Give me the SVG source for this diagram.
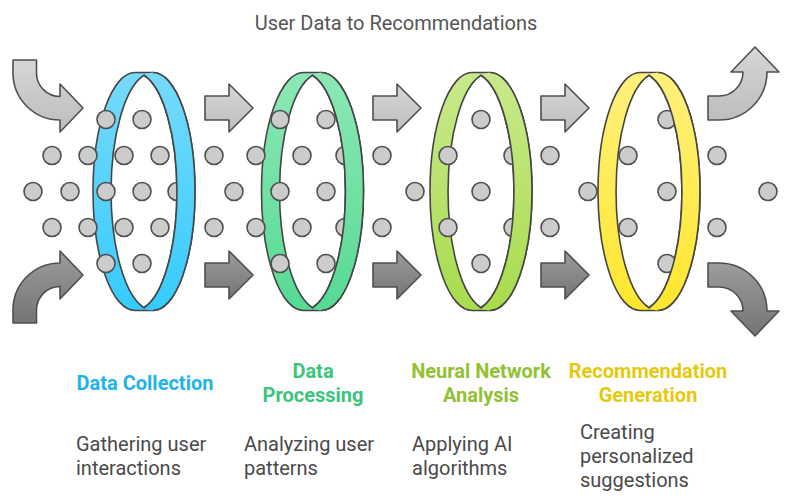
<svg xmlns="http://www.w3.org/2000/svg" width="794" height="504" viewBox="0 0 794 504">
<defs>
<linearGradient id="gBlue" x1="0" y1="0" x2="0" y2="1"><stop offset="0" stop-color="#76dafb"/><stop offset="1" stop-color="#36cbfe"/></linearGradient>
<linearGradient id="gGreen" x1="0" y1="0" x2="0" y2="1"><stop offset="0" stop-color="#8ce8b6"/><stop offset="1" stop-color="#56da93"/></linearGradient>
<linearGradient id="gLime" x1="0" y1="0" x2="0" y2="1"><stop offset="0" stop-color="#c9e98c"/><stop offset="1" stop-color="#a8dc4c"/></linearGradient>
<linearGradient id="gYellow" x1="0" y1="0" x2="0" y2="1"><stop offset="0" stop-color="#fff07c"/><stop offset="1" stop-color="#ffe72e"/></linearGradient>
<linearGradient id="gLight" x1="0" y1="0" x2="0" y2="1"><stop offset="0" stop-color="#d6d6d6"/><stop offset="1" stop-color="#bdbdbd"/></linearGradient>
<linearGradient id="gDark" x1="0" y1="0" x2="0" y2="1"><stop offset="0" stop-color="#9c9c9c"/><stop offset="1" stop-color="#747474"/></linearGradient>
<path id="ringBack" d="M-9,-119 L9,-119 A42,119 0 0 1 9,119 L-9,119 A42,119 0 0 1 -9,-119 Z"/>
<path id="ringHole" d="M0,-116.2 A42,119 0 0 1 0,116.2 A42,119 0 0 1 0,-116.2 Z"/>
<path id="ringFront" d="M9,-119 A42,119 0 0 1 9,119 A42,119 0 0 1 0,116.2 A42,119 0 0 0 0,-116.2 A42,119 0 0 1 9,-119 Z"/>
<path id="ringFrontLine" d="M9,-119 A42,119 0 0 1 9,119 M0,-116.2 A42,119 0 0 1 0,116.2"/>
<path id="arrowR" d="M-24,-12 L0,-12 L0,-24 L24,0 L0,24 L0,12 L-24,12 Z"/>
</defs>
<style>
.band{stroke:#454545;stroke-width:1.6;stroke-linejoin:round}
.hole{fill:#ffffff;stroke:#454545;stroke-width:1.6}
.line{fill:none;stroke:#454545;stroke-width:1.6}
.dot{fill:#cccccc;stroke:#4f4f4f;stroke-width:1.6}
.arr{stroke:#4f4f4f;stroke-width:1.6;stroke-linejoin:round}
.lt{fill:url(#gLight)}
.dk{fill:url(#gDark)}
.title{font-family:Roboto,"Liberation Sans",sans-serif;font-size:20px;fill:#555555;text-anchor:middle}
.head{font-family:Roboto,"Liberation Sans",sans-serif;font-size:20px;font-weight:bold;text-anchor:middle}
.desc{font-family:Roboto,"Liberation Sans",sans-serif;font-size:20px;fill:#4a4a4a}
</style>
<rect width="794" height="504" fill="#ffffff"/>
<text class="title" x="396" y="30">User Data to Recommendations</text>

<g id="connectors">
<path class="arr lt" d="M13,60 L13,73 A47,47 0 0 0 60,120 L60,132 L83,108 L60,84 L60,96.5 A23.5,23.5 0 0 1 36.5,73 L36.5,60 Z"/>
<path class="arr dk" d="M13,323 L13,310 A47,47 0 0 1 60,263 L60,251 L83,275 L60,299 L60,286.5 A23.5,23.5 0 0 0 36.5,310 L36.5,323 Z"/>
<use class="arr lt" href="#arrowR" x="229" y="108"/>
<use class="arr dk" href="#arrowR" x="229" y="275"/>
<use class="arr lt" href="#arrowR" x="397" y="108"/>
<use class="arr dk" href="#arrowR" x="397" y="275"/>
<use class="arr lt" href="#arrowR" x="565" y="108"/>
<use class="arr dk" href="#arrowR" x="565" y="275"/>
<path class="arr lt" d="M708,120 L719,120 A48,48 0 0 0 767,72 L779,72 L755,47 L731,72 L743,72 A24,24 0 0 1 719,96 L708,96 Z"/>
<path class="arr dk" d="M708,263 L719,263 A48,48 0 0 1 767,311 L779,311 L755,336 L731,311 L743,311 A24,24 0 0 0 719,287 L708,287 Z"/>
</g>

<g id="node-data-collection">
<g transform="translate(144,191.5)">
<use class="band" href="#ringBack" fill="url(#gBlue)"/>
<use class="hole" href="#ringHole"/>
</g>
<circle class="dot" cx="106" cy="119.5" r="9"/><circle class="dot" cx="142" cy="119.5" r="9"/>
<circle class="dot" cx="52" cy="155.5" r="9"/><circle class="dot" cx="88" cy="155.5" r="9"/><circle class="dot" cx="124" cy="155.5" r="9"/><circle class="dot" cx="160" cy="155.5" r="9"/>
<circle class="dot" cx="33" cy="191.5" r="9"/><circle class="dot" cx="70" cy="191.5" r="9"/><circle class="dot" cx="106" cy="191.5" r="9"/><circle class="dot" cx="142" cy="191.5" r="9"/><circle class="dot" cx="177" cy="191.5" r="9"/>
<circle class="dot" cx="52" cy="227.5" r="9"/><circle class="dot" cx="88" cy="227.5" r="9"/><circle class="dot" cx="124" cy="227.5" r="9"/><circle class="dot" cx="160" cy="227.5" r="9"/>
<circle class="dot" cx="106" cy="263.5" r="9"/><circle class="dot" cx="142" cy="263.5" r="9"/>
<g transform="translate(144,191.5)">
<use href="#ringFront" fill="url(#gBlue)"/>
<use class="line" href="#ringFrontLine"/>
</g>
<text class="head" x="145" y="390" fill="#1db4e8">Data Collection</text>
<text class="desc" x="76" y="451">Gathering user</text>
<text class="desc" x="76" y="475">interactions</text>
</g>

<g id="node-data-processing">
<g transform="translate(312.5,191.5)">
<use class="band" href="#ringBack" fill="url(#gGreen)"/>
<use class="hole" href="#ringHole"/>
</g>
<circle class="dot" cx="280" cy="119.5" r="9"/><circle class="dot" cx="326" cy="119.5" r="9"/>
<circle class="dot" cx="214" cy="155.5" r="9"/><circle class="dot" cx="256" cy="155.5" r="9"/><circle class="dot" cx="302" cy="155.5" r="9"/><circle class="dot" cx="345" cy="155.5" r="9"/>
<circle class="dot" cx="234" cy="191.5" r="9"/><circle class="dot" cx="280" cy="191.5" r="9"/><circle class="dot" cx="326" cy="191.5" r="9"/>
<circle class="dot" cx="214" cy="227.5" r="9"/><circle class="dot" cx="256" cy="227.5" r="9"/><circle class="dot" cx="302" cy="227.5" r="9"/><circle class="dot" cx="345" cy="227.5" r="9"/>
<circle class="dot" cx="280" cy="263.5" r="9"/><circle class="dot" cx="326" cy="263.5" r="9"/>
<g transform="translate(312.5,191.5)">
<use href="#ringFront" fill="url(#gGreen)"/>
<use class="line" href="#ringFrontLine"/>
</g>
<text class="head" x="313" y="378" fill="#3cc47e">Data</text>
<text class="head" x="313" y="402" fill="#3cc47e">Processing</text>
<text class="desc" x="244" y="451">Analyzing user</text>
<text class="desc" x="244" y="475">patterns</text>
</g>

<g id="node-neural-network-analysis">
<g transform="translate(481,191.5)">
<use class="band" href="#ringBack" fill="url(#gLime)"/>
<use class="hole" href="#ringHole"/>
</g>
<circle class="dot" cx="481" cy="119.5" r="9"/>
<circle class="dot" cx="382" cy="155.5" r="9"/><circle class="dot" cx="448" cy="155.5" r="9"/><circle class="dot" cx="513" cy="155.5" r="9"/><circle class="dot" cx="550" cy="155.5" r="9"/>
<circle class="dot" cx="415" cy="191.5" r="9"/><circle class="dot" cx="481" cy="191.5" r="9"/>
<circle class="dot" cx="382" cy="227.5" r="9"/><circle class="dot" cx="448" cy="227.5" r="9"/><circle class="dot" cx="513" cy="227.5" r="9"/><circle class="dot" cx="550" cy="227.5" r="9"/>
<circle class="dot" cx="481" cy="263.5" r="9"/>
<g transform="translate(481,191.5)">
<use href="#ringFront" fill="url(#gLime)"/>
<use class="line" href="#ringFrontLine"/>
</g>
<text class="head" x="481" y="378" fill="#92c233">Neural Network</text>
<text class="head" x="481" y="402" fill="#92c233">Analysis</text>
<text class="desc" x="412" y="451">Applying AI</text>
<text class="desc" x="412" y="475">algorithms</text>
</g>

<g id="node-recommendation-generation">
<g transform="translate(649,191.5)">
<use class="band" href="#ringBack" fill="url(#gYellow)"/>
<use class="hole" href="#ringHole"/>
</g>
<circle class="dot" cx="667" cy="119.5" r="9"/>
<circle class="dot" cx="628" cy="155.5" r="9"/><circle class="dot" cx="717" cy="155.5" r="9"/>
<circle class="dot" cx="588" cy="191.5" r="9"/><circle class="dot" cx="667" cy="191.5" r="9"/><circle class="dot" cx="768" cy="191.5" r="9"/>
<circle class="dot" cx="628" cy="227.5" r="9"/><circle class="dot" cx="717" cy="227.5" r="9"/>
<circle class="dot" cx="667" cy="263.5" r="9"/>
<g transform="translate(649,191.5)">
<use href="#ringFront" fill="url(#gYellow)"/>
<use class="line" href="#ringFrontLine"/>
</g>
<text class="head" x="648" y="378" fill="#e6c90c">Recommendation</text>
<text class="head" x="648" y="402" fill="#e6c90c">Generation</text>
<text class="desc" x="580" y="439">Creating</text>
<text class="desc" x="580" y="463">personalized</text>
<text class="desc" x="580" y="487">suggestions</text>
</g>
</svg>
